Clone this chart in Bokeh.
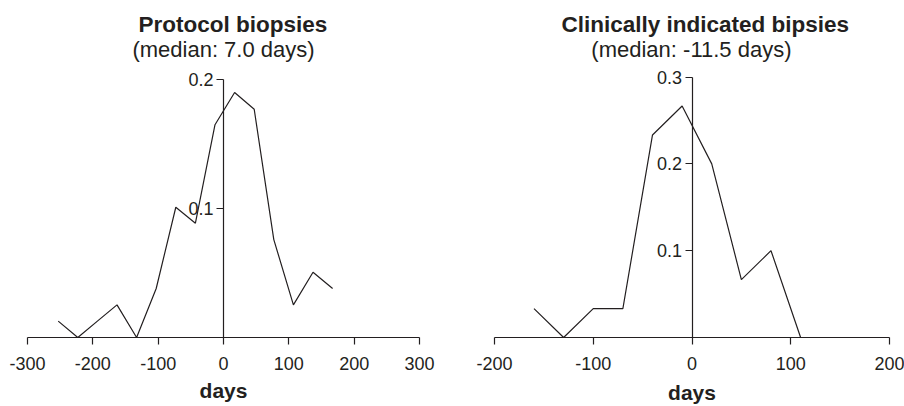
from bokeh.plotting import figure
from bokeh.models import Range1d, FixedTicker, Label
from bokeh.layouts import row
from bokeh.embed import file_html
from bokeh.resources import INLINE

# ---- data ----
protocol_days = [-253, -223, -193, -163, -133, -103, -73, -43, -13, 17, 47, 77, 107, 137, 167]
protocol_freq = [0.0127, 0.0, 0.0127, 0.0253, 0.0, 0.038, 0.101, 0.0886, 0.165, 0.190,
                 0.177, 0.0759, 0.0253, 0.0506, 0.038]

clinical_days = [-160, -130, -100, -70, -40, -10, 20, 50, 80, 110]
clinical_freq = [0.0333, 0.0, 0.0333, 0.0333, 0.2333, 0.2667, 0.2, 0.0667, 0.1, 0.0]

protocol_xticks = [-300, -200, -100, 0, 100, 200, 300]
protocol_yticks = [0.1, 0.2]
clinical_xticks = [-200, -100, 0, 100, 200]
clinical_yticks = [0.1, 0.2, 0.3]

panel_titles = ["Protocol biopsies", "Clinically indicated bipsies"]
panel_subtitles = ["(median: 7.0 days)", "(median: -11.5 days)"]
x_label = "days"

FONT = "Liberation Sans"
INK = "#231f20"


def make_panel(days, freq, xr, yr, ybound, xticks, yticks, title, subtitle,
               width, height, borders, title_pos, sub_pos, tick_standoff, label_standoff):
    left, right, top, bottom = borders
    p = figure(width=width, height=height,
               x_range=Range1d(*xr), y_range=Range1d(*yr),
               output_backend="svg", toolbar_location=None,
               min_border_left=left, min_border_right=right,
               min_border_top=top, min_border_bottom=bottom)
    p.outline_line_color = None
    p.grid.visible = False
    p.background_fill_color = "white"
    p.border_fill_color = "white"

    xa = p.xaxis[0]
    xa.ticker = FixedTicker(ticks=xticks)
    xa.major_label_overrides = {t: str(t) for t in xticks}
    xa.minor_tick_line_color = None
    xa.major_tick_in = 0
    xa.major_tick_out = 7
    xa.axis_line_color = INK
    xa.major_tick_line_color = INK
    xa.axis_line_width = 1.2
    xa.major_tick_line_width = 1.2
    xa.major_label_text_font = FONT
    xa.major_label_text_font_size = "18px"
    xa.major_label_text_color = INK
    xa.major_label_standoff = tick_standoff
    xa.axis_label = x_label
    xa.axis_label_text_font = FONT
    xa.axis_label_text_font_style = "bold"
    xa.axis_label_text_font_size = "21px"
    xa.axis_label_text_color = INK
    xa.axis_label_standoff = label_standoff

    ya = p.yaxis[0]
    ya.fixed_location = 0
    ya.bounds = ybound
    ya.ticker = FixedTicker(ticks=yticks)
    ya.minor_tick_line_color = None
    ya.major_tick_in = 0
    ya.major_tick_out = 7
    ya.axis_line_color = INK
    ya.major_tick_line_color = INK
    ya.axis_line_width = 1.2
    ya.major_tick_line_width = 1.2
    ya.major_label_text_font = FONT
    ya.major_label_text_font_size = "18px"
    ya.major_label_text_color = INK
    ya.major_label_standoff = 3

    p.line(days, freq, line_color=INK, line_width=1.2)

    p.add_layout(Label(x=title_pos[0], y=title_pos[1], text=title,
                       text_align="center", text_baseline="alphabetic",
                       text_font=FONT, text_font_style="bold",
                       text_font_size="22.5px", text_color=INK))
    p.add_layout(Label(x=sub_pos[0], y=sub_pos[1], text=subtitle,
                       text_align="center", text_baseline="alphabetic",
                       text_font=FONT, text_font_size="22px", text_color=INK))
    return p


# left panel: frame from canvas top (y=0) to x-axis at y=341, x from 27 to 419
p1 = make_panel(protocol_days, protocol_freq, (-300, 300), (0, 0.2613), (0, 0.2),
                protocol_xticks, protocol_yticks,
                panel_titles[0], panel_subtitles[0],
                440, 406, (27, 21, 0, 65),
                (14.5, 0.2427), (0.0, 0.2231), 12, 6)

# right panel: frame from canvas top to x-axis at y=339, x from 494 to 889
p2 = make_panel(clinical_days, clinical_freq, (-200, 200), (0, 0.38817), (0, 0.3),
                clinical_xticks, clinical_yticks,
                panel_titles[1], panel_subtitles[1],
                464, 406, (54, 15, 0, 67),
                (13.5, 0.3605), (-0.6, 0.3312), 12, 8)

layout = row(p1, p2)
open("out.html", "w").write(file_html(layout, INLINE))
